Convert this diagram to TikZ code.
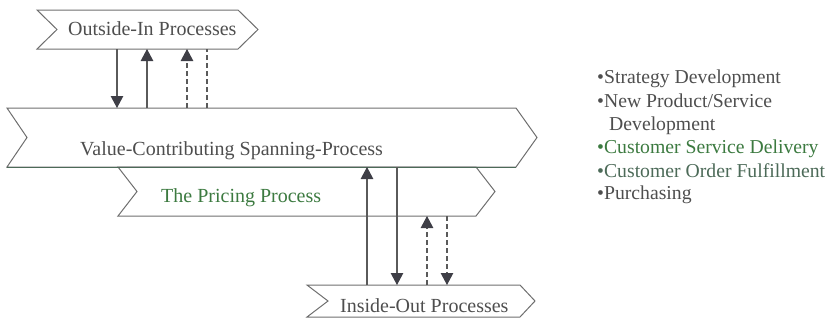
\documentclass[tikz,border=0pt]{standalone}
\usepackage{fontspec}
\setmainfont{Liberation Serif}
\usetikzlibrary{arrows.meta}

\definecolor{edge}{HTML}{6E6E6E}
\definecolor{wire}{HTML}{5A5A5A}
\definecolor{tipfill}{HTML}{3E3E46}
\definecolor{txt}{HTML}{4E4E4E}
\definecolor{grn}{HTML}{3C7A40}
\definecolor{grngray}{HTML}{4C6A58}

% chevron outline around a body node: #2 = notch depth, #3 = tip depth
\newcommand\chevronpath[3]{%
  \draw[outline] ([xshift=-#2]#1.north west) -- ([xshift=-#3]#1.north east)
    -- (#1.east) -- ([xshift=-#3]#1.south east)
    -- ([xshift=-#2]#1.south west) -- (#1.west) -- cycle;}

\begin{document}
\begin{tikzpicture}[x=1pt,y=-1pt,
  body/.style={draw=none,inner sep=0pt,outer sep=0pt,
    minimum width=#1},
  outline/.style={draw=edge,line width=1pt,line join=miter},
  lbl/.style={anchor=base west,inner sep=0pt,text=txt,
    font=\fontsize{20}{24}\selectfont},
  item/.style={anchor=base west,inner sep=0pt,text=txt,
    font=\fontsize{19.7}{23}\selectfont},
  flow/.style={draw=wire,line width=1.1pt,
    -{Triangle[length=12pt,width=12.5pt,fill=tipfill,color=tipfill]}},
  plain/.style={draw=wire,line width=1.1pt},
  broken/.style={dash pattern=on 5pt off 3pt}]
\useasboundingbox (0,0) rectangle (833,325);

% process bodies (notch-inner edge to tip)
\node[body=201pt,minimum height=39pt] (oi) at (157.5,29.5) {};
\node[body=510pt,minimum height=59pt] (vc) at (282,137.5) {};
\node[body=358pt,minimum height=49pt] (pp) at (316,191.5) {};
\node[body=207pt,minimum height=32pt] (io) at (431.5,301) {};

\chevronpath{oi}{20pt}{20pt}
\chevronpath{vc}{20pt}{21pt}
\chevronpath{pp}{19pt}{19pt}
\chevronpath{io}{21pt}{15pt}
\draw[draw=grngray,line width=1pt] ([xshift=-20pt]vc.south west) -- ([xshift=-21pt]vc.south east);

% process labels
\node[lbl] (oit) at (68,35) {Outside-In Processes};
\node[lbl] (vct) at (80,155) {Value-Contributing Spanning-Process};
\node[lbl,text=grn] (ppt) at (161,202) {The Pricing Process};
\node[lbl] (iot) at (340,312) {Inside-Out Processes};

% columns of the exchange lines
\coordinate (c1) at (117,0);
\coordinate (c2) at (147,0);
\coordinate (c3) at (187,0);
\coordinate (c4) at (207,0);
\coordinate (c5) at (367,0);
\coordinate (c6) at (397,0);
\coordinate (c7) at (427,0);
\coordinate (c8) at (447,0);

% outside-in <-> spanning process
\draw[flow] (oi.south -| c1) -- (vc.north -| c1);
\draw[flow] (vc.north -| c2) -- (oi.south -| c2);
\draw[flow,broken] (vc.north -| c3) -- (oi.south -| c3);
\draw[plain,broken] (vc.north -| c4) -- (oi.south -| c4);

% inside-out <-> spanning / pricing process
\draw[flow] (io.north -| c5) -- (vc.south -| c5);
\draw[flow] (vc.south -| c6) -- (io.north -| c6);
\draw[flow,broken] (io.north -| c7) -- (pp.south -| c7);
\draw[flow,broken] (pp.south -| c8) -- (io.north -| c8);

% list of processes
\node[item] (l1) at (597,83) {•Strategy Development};
\node[item] (l2) at (597,107) {•New Product/Service};
\node[item] (l3) at (609,130) {Development};
\node[item,text=grn] (l4) at (597,153) {•Customer Service Delivery};
\node[item,text=grngray] (l5) at (597,177) {•Customer Order Fulfillment};
\node[item] (l6) at (597,199) {•Purchasing};
\end{tikzpicture}
\end{document}
